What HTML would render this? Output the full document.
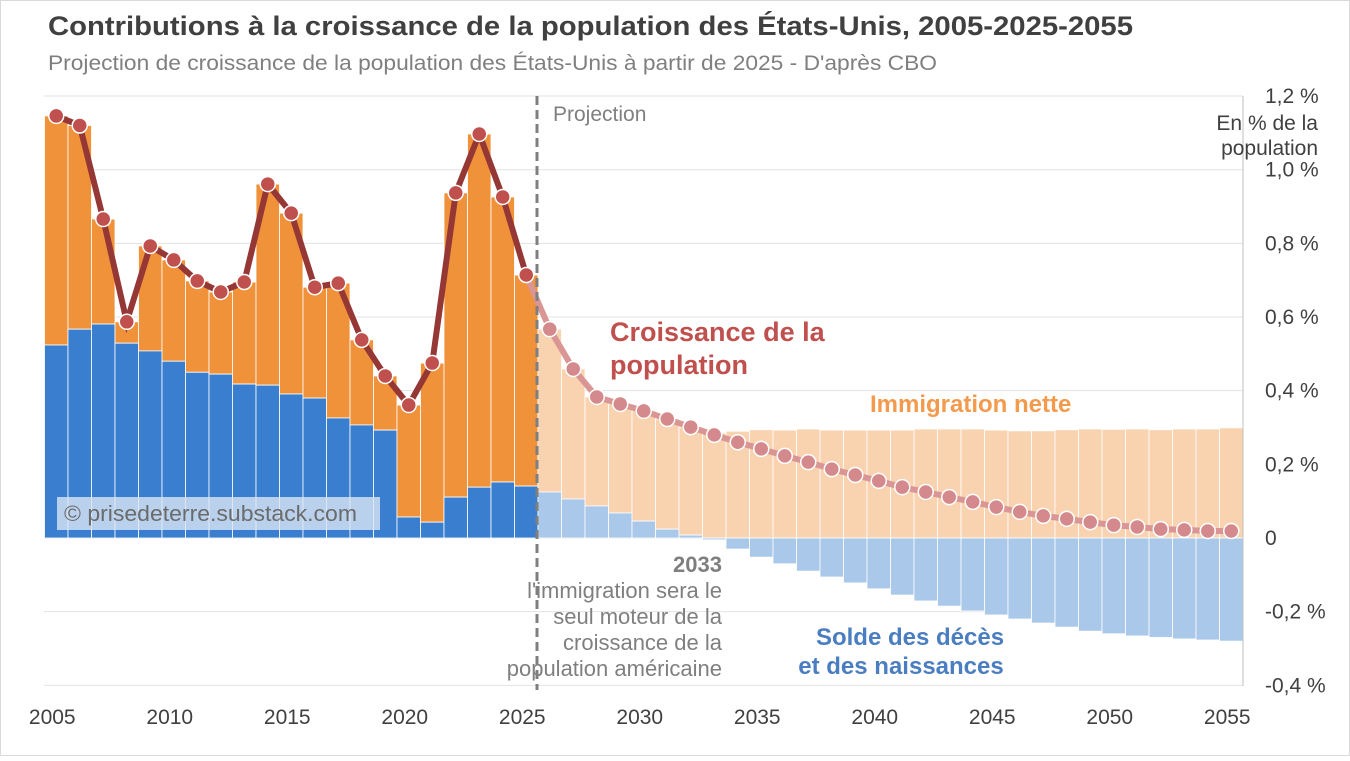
<!DOCTYPE html>
<html><head><meta charset="utf-8"><style>
body{margin:0;background:#fff;font-family:"Liberation Sans",sans-serif}
svg text{font-family:"Liberation Sans",sans-serif}
</style></head><body>
<svg width="1350" height="756" viewBox="0 0 1350 756">
<rect x="0.5" y="0.5" width="1349" height="755" fill="#fff" stroke="#d9d9d9"/>
<text x="48" y="35" font-size="27" font-weight="bold" fill="#404040" textLength="1085" lengthAdjust="spacingAndGlyphs">Contributions à la croissance de la population des États-Unis, 2005-2025-2055</text>
<text x="48" y="70" font-size="21" fill="#7f7f7f" textLength="889" lengthAdjust="spacingAndGlyphs">Projection de croissance de la population des États-Unis à partir de 2025 - D'après CBO</text>
<g id="grid"></g><g id="bars"></g><g id="line"></g><g id="axes"></g>
<rect x="57" y="497" width="323" height="33" fill="#dbe6f4" opacity="0.8"/>
<text x="64" y="521" font-size="22" fill="#6b6b6b" textLength="293" lengthAdjust="spacingAndGlyphs">© prisedeterre.substack.com</text>
<text x="553" y="121" font-size="21" fill="#7f7f7f">Projection</text>
<text x="1318" y="130" font-size="21" fill="#404040" text-anchor="end">En % de la</text>
<text x="1318" y="155" font-size="21" fill="#404040" text-anchor="end">population</text>
<text x="610" y="341" font-size="27" font-weight="bold" fill="#c0504d">Croissance de la</text>
<text x="610" y="374" font-size="27" font-weight="bold" fill="#c0504d">population</text>
<text x="870" y="412" font-size="24" font-weight="bold" fill="#f39a4d">Immigration  nette</text>
<text x="910" y="645" font-size="24" font-weight="bold" fill="#4a7ec0" text-anchor="middle">Solde des décès</text>
<text x="901" y="674" font-size="24" font-weight="bold" fill="#4a7ec0" text-anchor="middle">et des naissances</text>
<g font-size="22" fill="#7f7f7f" text-anchor="end">
<text x="722" y="572" font-weight="bold">2033</text>
<text x="722" y="598">l'immigration sera le</text>
<text x="722" y="624">seul moteur de la</text>
<text x="722" y="650">croissance de la</text>
<text x="722" y="676">population américaine</text>
</g>
</svg>
<script>
const years=[];for(let y=2005;y<=2055;y++)years.push(y);
const total=[1.146,1.12,0.866,0.587,0.793,0.755,0.698,0.668,0.695,0.961,0.882,0.681,0.692,0.538,0.44,0.361,0.475,0.937,1.097,0.926,0.714,0.567,0.459,0.383,0.364,0.345,0.323,0.301,0.28,0.26,0.242,0.223,0.206,0.187,0.171,0.155,0.138,0.125,0.111,0.098,0.084,0.071,0.06,0.052,0.043,0.035,0.03,0.024,0.022,0.019,0.019];
const natural=[0.524,0.567,0.581,0.529,0.508,0.48,0.45,0.445,0.418,0.415,0.391,0.38,0.326,0.307,0.293,0.057,0.043,0.111,0.138,0.152,0.141,0.125,0.106,0.087,0.068,0.046,0.024,0.008,-0.005,-0.03,-0.052,-0.07,-0.09,-0.106,-0.122,-0.138,-0.155,-0.171,-0.185,-0.198,-0.209,-0.22,-0.231,-0.242,-0.253,-0.26,-0.266,-0.27,-0.274,-0.277,-0.28];
const yTicks=[1.2,1.0,0.8,0.6,0.4,0.2,0,-0.2,-0.4];
const yTickLabels=["1,2 %","1,0 %","0,8 %","0,6 %","0,4 %","0,2 %","0","-0,2 %","-0,4 %"];
const xTicks=[2005,2010,2015,2020,2025,2030,2035,2040,2045,2050,2055];
const NS="http://www.w3.org/2000/svg";
const X0=44.5,BW=(1243-44.5)/51,Y0=538,K=368.3;
const yS=v=>Y0-v*K, xL=i=>X0+i*BW, xC=i=>X0+(i+0.5)*BW;
function mk(p,t,a){const e=document.createElementNS(NS,t);for(const k in a)e.setAttribute(k,a[k]);document.getElementById(p).appendChild(e);return e;}
yTicks.forEach((v,i)=>{
 const g=mk('grid','line',{x1:44,x2:1243,y1:yS(v),y2:yS(v),stroke:v===0?'#a6a6a6':'#e3e3e3','stroke-width':1});
 
 
 const t=mk('axes','text',{x:1265,y:yS(v)+7,'font-size':21,fill:'#404040'});t.textContent=yTickLabels[i];
 
 
});
const ax=mk('axes','line',{x1:1243,x2:1243,y1:96,y2:686,stroke:'#bfbfbf'});


xTicks.forEach(y=>{const i=y-2005;const t=mk('axes','text',{x:xC(i)-4,y:724,'font-size':21,fill:'#404040','text-anchor':'middle'});t.textContent=y;
 
 });
years.forEach((y,i)=>{
 const proj=y>2025;const n=natural[i],m=total[i]-n;
 const base=Math.max(n,0);
 const o=mk('bars','rect',{x:xL(i),width:BW,y:yS(base+m),height:m*K,fill:proj?'#f9d3b0':'#f0923a',stroke:'#fff','stroke-width':0.8});
 
 
 const b=mk('bars','rect',{x:xL(i),width:BW,y:Math.min(yS(n),Y0),height:Math.abs(n)*K,fill:proj?'#a9c8ea':'#3a7fcf',stroke:'#fff','stroke-width':0.8});
 
 
});
const dl=mk('axes','line',{x1:537,x2:537,y1:96,y2:690,stroke:'#7f7f7f','stroke-width':3,'stroke-dasharray':'9,5'});


let p1='',p2='';
years.forEach((y,i)=>{const pt=xC(i)+','+yS(total[i]);if(y<=2025)p1+=(p1?' ':'')+pt;if(y>=2025)p2+=(p2?' ':'')+pt;});
const l2=mk('line','polyline',{points:p2,fill:'none',stroke:'#d99694','stroke-width':6});


const l1=mk('line','polyline',{points:p1,fill:'none',stroke:'#953735','stroke-width':6});


years.forEach((y,i)=>{const c=mk('line','circle',{cx:xC(i),cy:yS(total[i]),r:7.5,fill:y>2025?'#d48a8d':'#c0504d',stroke:'#fff','stroke-width':1.5});
 
 });
</script>
</body></html>
